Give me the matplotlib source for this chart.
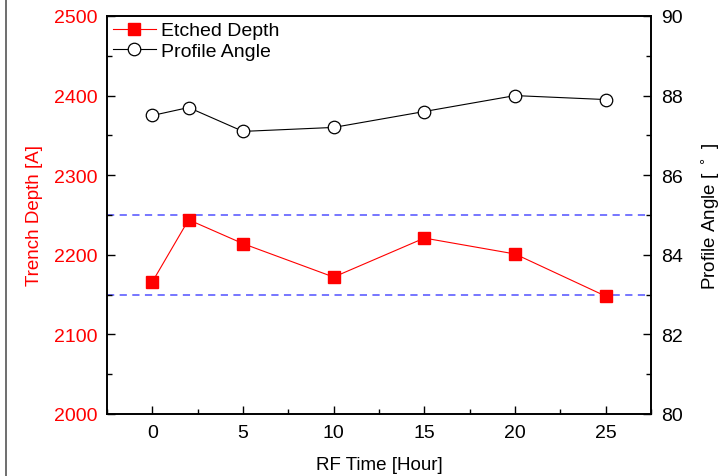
import matplotlib
matplotlib.use("Agg")
import matplotlib.pyplot as plt
from matplotlib.lines import Line2D
from matplotlib.ticker import MultipleLocator

plt.rcParams['font.family'] = ['Liberation Sans', 'DejaVu Sans']

# RF time in hours
rf_time = [0, 2, 5, 10, 15, 20, 25]
# etched trench depth in angstrom
etched_depth = [2166, 2244, 2214, 2172, 2221, 2201, 2148]
# sidewall profile angle in degrees
profile_angle = [87.5, 87.7, 87.1, 87.2, 87.6, 88.0, 87.9]
# spec window on the depth
depth_limits = [2150, 2250]

fig = plt.figure(figsize=(7.25, 4.77), dpi=100)
ax = fig.add_axes([0.1476, 0.13, 0.7504, 0.8344])
ax2 = ax.twinx()

for y in depth_limits:
    ax.axhline(y, color='#6b6bff', lw=1.3, ls=(0, (4, 3)), zorder=1)

ax.plot(rf_time, etched_depth, color='red', lw=0.8, marker='s', ms=8.5,
        mec='red', mfc='red', zorder=3)
ax2.plot(rf_time, profile_angle, color='black', lw=0.8, marker='o', ms=9,
         mec='black', mfc='white', mew=0.9)

ax.set_xlim(-2.5, 27.5)
ax.set_ylim(2000, 2500)
ax2.set_ylim(80, 90)

ax.xaxis.set_major_locator(MultipleLocator(5))
ax.xaxis.set_minor_locator(MultipleLocator(2.5))
ax.yaxis.set_major_locator(MultipleLocator(100))
ax.yaxis.set_minor_locator(MultipleLocator(50))
ax2.yaxis.set_major_locator(MultipleLocator(2))
ax2.yaxis.set_minor_locator(MultipleLocator(1))

for a in (ax, ax2):
    a.tick_params(which='major', direction='in', length=6, width=1, labelsize=14, pad=7)
    a.tick_params(which='minor', direction='in', length=3.5, width=1)
    for s in a.spines.values():
        s.set_linewidth(1.2)
ax.tick_params(axis='y', colors='black', labelcolor='red')
ax2.tick_params(axis='y', which='both', right=True, left=False)

ax.set_xlabel('RF Time [Hour]', fontsize=13.5, labelpad=11)
ax.set_ylabel('Trench Depth [A]', fontsize=13.5, color='red', labelpad=8)
ax2.set_ylabel('Profile Angle [ $^\\circ$ ]', fontsize=13.5, labelpad=12)

handles = [
    Line2D([], [], color='red', lw=0.8, marker='s', ms=8.5, mfc='red', mec='red'),
    Line2D([], [], color='black', lw=0.8, marker='o', ms=9, mfc='white', mec='black', mew=0.9),
]
ax.legend(handles, ['Etched Depth', 'Profile Angle'], loc='upper left', frameon=False,
          fontsize=14, handlelength=2.2, handletextpad=0.3, labelspacing=0.15,
          borderaxespad=0.2, borderpad=0.1)

# thin border on the left edge of the figure
fig.add_artist(Line2D([0.0083, 0.0083], [0, 1], color='#555555', lw=1.2,
                      transform=fig.transFigure))

fig.savefig('out.png', dpi=100)
